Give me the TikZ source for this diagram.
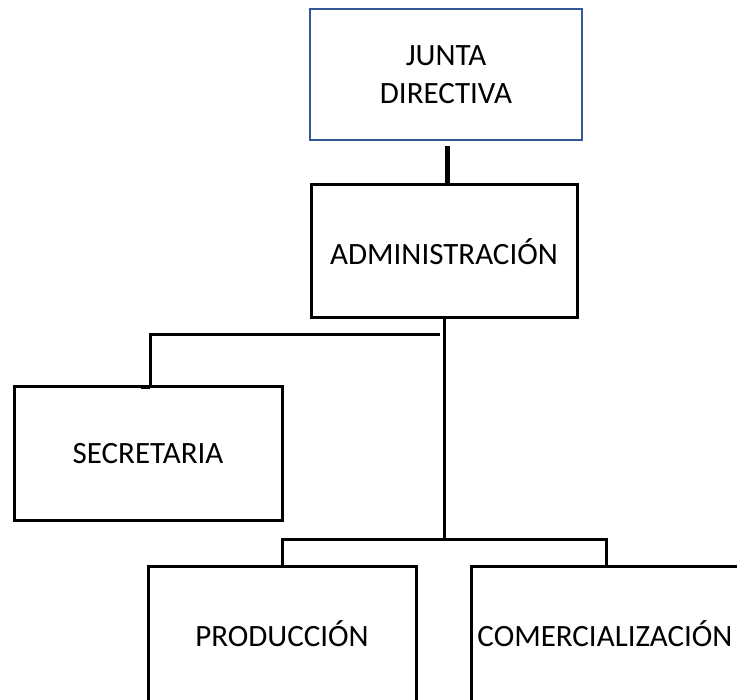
\documentclass[tikz,border=0pt]{standalone}
\usepackage{fontspec}
\setmainfont{Carlito}
\definecolor{boxblue}{RGB}{52,88,150}
\begin{document}
\begin{tikzpicture}[x=1pt,y=-1pt,
  unitbox/.style={draw=black,line width=3pt,fill=white,inner sep=0pt,align=center,
    font=\fontsize{31}{38}\selectfont},
  link/.style={draw=black,line width=3pt}]
\useasboundingbox (0,0) rectangle (737,700);
\node[unitbox,draw=boxblue,line width=2.4pt,minimum width=272pt,minimum height=131pt] (jd) at (446,74.5) {JUNTA\\DIRECTIVA};
\node[unitbox,minimum width=266pt,minimum height=133pt] (adm) at (444,251.5) {ADMINISTRACIÓN};
\node[unitbox,minimum width=268pt,minimum height=134pt] (sec) at (148,454) {SECRETARIA};
\node[unitbox,minimum width=268pt,minimum height=134pt] (prod) at (282,634) {PRODUCCIÓN};
\node[unitbox,minimum width=268pt,minimum height=134pt] (com) at (605,634) {COMERCIALIZACIÓN};
\draw[link,line width=5pt] ([xshift=1pt,yshift=-5pt]jd.south) -- ([xshift=3pt]adm.north);
\coordinate (s1) at (440,335);
\coordinate (j1) at (444,540);
\draw[link] (adm.south) -- (j1);
\draw[link] (j1) -| (prod.north);
\draw[link] (j1) -| ([xshift=1pt]com.north);
\draw[link] (s1) -| ([xshift=2pt]sec.north);
\draw[link,line width=3.5pt] ([xshift=-7pt,yshift=-1.5pt]sec.north) -- ([xshift=2pt,yshift=-1.5pt]sec.north);
\end{tikzpicture}
\end{document}
